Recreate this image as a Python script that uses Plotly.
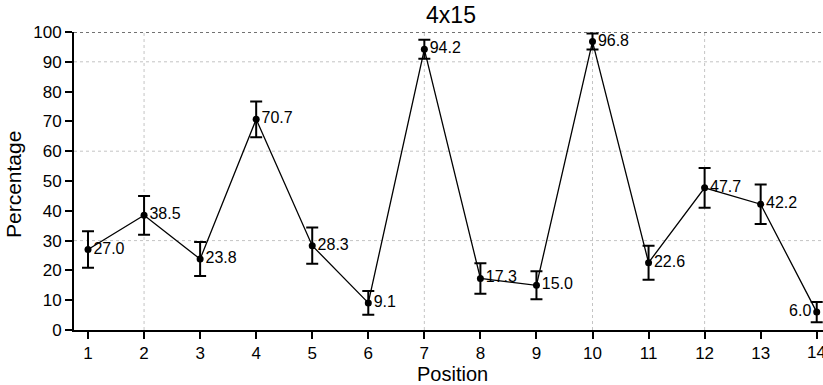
import plotly.graph_objects as go

positions = list(range(1, 15))
percentages = [27.0, 38.5, 23.8, 70.7, 28.3, 9.1, 94.2, 17.3, 15.0, 96.8, 22.6, 47.7, 42.2, 6.0]
errors = [6.1, 6.5, 5.7, 6.0, 6.1, 4.0, 3.2, 5.1, 4.7, 2.7, 5.7, 6.7, 6.6, 3.4]
labels = [f"{v:.1f}" for v in percentages]
label_pos = ["middle right"] * 13 + ["middle left"]
x_ticks = list(range(1, 15))
y_ticks = list(range(0, 101, 10))
h_grid = [30, 60, 90, 100]
v_grid = [2, 7, 10, 12]

FONT = "Liberation Sans, Arial, sans-serif"

fig = go.Figure()
fig.add_trace(go.Scatter(
    x=positions, y=percentages,
    mode="lines+markers+text",
    text=labels,
    textposition=label_pos,
    textfont=dict(family=FONT, size=16, color="black"),
    line=dict(color="black", width=1.3),
    marker=dict(color="black", size=7),
    error_y=dict(type="data", array=errors, color="black", thickness=2, width=6),
    cliponaxis=False,
    showlegend=False,
))

shapes = []
for g in h_grid:
    shapes.append(dict(type="line", xref="paper", x0=0, x1=1, yref="y", y0=g, y1=g,
                       line=dict(color="#c4c4c4" if g != 100 else "#444444",
                                 width=1 if g != 100 else 1.5, dash="dot"), layer="below"))
for g in v_grid:
    shapes.append(dict(type="line", xref="x", x0=g, x1=g, yref="paper", y0=0, y1=1,
                       line=dict(color="#c4c4c4", width=1, dash="dot"), layer="below"))

annotations = [
    dict(text="Percentage", xref="paper", yref="paper", x=-0.0801, y=0.4866,
         xanchor="center", yanchor="middle", textangle=-90, showarrow=False,
         font=dict(family=FONT, size=21, color="black")),
    dict(text="Position", xref="paper", yref="paper", x=0.506, y=-0.146,
         xanchor="center", yanchor="middle", showarrow=False,
         font=dict(family=FONT, size=20, color="black")),
    # last tick label, partly cut off at the right edge as in the reference
    dict(text=str(x_ticks[-1]), xref="x", yref="paper", x=x_ticks[-1], y=-0.074,
         xanchor="center", yanchor="middle", showarrow=False,
         font=dict(family=FONT, size=17, color="black")),
]

fig.update_layout(
    width=823, height=385,
    margin=dict(l=74, r=0, t=32, b=55),
    paper_bgcolor="white", plot_bgcolor="white",
    title=dict(text="4x15", x=0.548, xanchor="center", y=0.961, yanchor="middle",
               font=dict(family=FONT, size=23, color="black")),
    font=dict(family=FONT, color="black"),
    shapes=shapes,
    annotations=annotations,
    xaxis=dict(range=[0.75, 14.112], tickvals=x_ticks[:-1] + [x_ticks[-1]],
               ticktext=[str(t) for t in x_ticks[:-1]] + [""],
               ticks="outside", ticklen=7, tickwidth=2,
               tickcolor="black", showline=True, linecolor="black", linewidth=2, showgrid=False,
               zeroline=False, tickfont=dict(family=FONT, size=17, color="black"), automargin=False),
    yaxis=dict(range=[0, 100], tickvals=y_ticks, ticks="outside", ticklen=7, tickwidth=2,
               tickcolor="black", showline=True, linecolor="black", linewidth=2, showgrid=False,
               zeroline=False, tickfont=dict(family=FONT, size=17, color="black"), automargin=False),
)

fig.write_html("out.html", config={"displayModeBar": False},
               post_script="document.body.style.margin='0px';")
